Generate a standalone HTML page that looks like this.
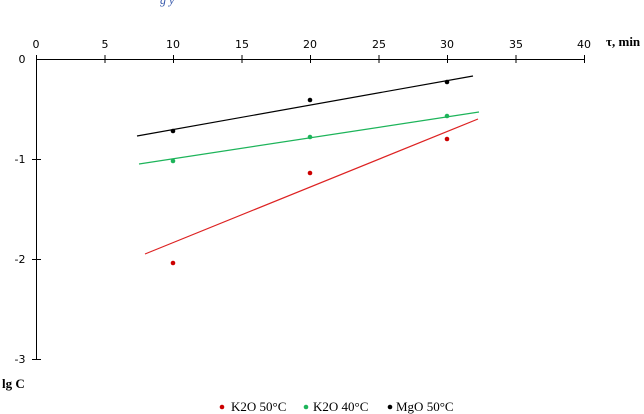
<!DOCTYPE html><html><head><style>body{margin:0;background:#fff}svg{display:block}</style></head><body>
<svg width="644" height="414" xmlns="http://www.w3.org/2000/svg">
<text x="160" y="4" font-family="Liberation Serif,serif" font-size="12" font-style="italic" fill="#3355aa">g   y</text>
<g stroke="#000" stroke-width="1">
<line x1="36" y1="59.5" x2="585" y2="59.5"/><line x1="36.5" y1="59" x2="36.5" y2="359"/>
<line x1="36.5" y1="55" x2="36.5" y2="63"/><line x1="105" y1="55" x2="105" y2="63"/><line x1="173.5" y1="55" x2="173.5" y2="63"/><line x1="242" y1="55" x2="242" y2="63"/><line x1="310.5" y1="55" x2="310.5" y2="63"/><line x1="379" y1="55" x2="379" y2="63"/><line x1="447.5" y1="55" x2="447.5" y2="63"/><line x1="516" y1="55" x2="516" y2="63"/><line x1="584.5" y1="55" x2="584.5" y2="63"/>
<line x1="32" y1="159.5" x2="41" y2="159.5"/><line x1="32" y1="259.5" x2="41" y2="259.5"/><line x1="32" y1="359.5" x2="41" y2="359.5"/>
</g>
<g font-family="DejaVu Sans,sans-serif" font-size="11" fill="#000" text-anchor="middle">
<text x="36" y="48">0</text><text x="105" y="48">5</text><text x="173" y="48">10</text><text x="242" y="48">15</text><text x="310" y="48">20</text><text x="379" y="48">25</text><text x="447" y="48">30</text><text x="516" y="48">35</text><text x="584" y="48">40</text>
<text x="22" y="63">0</text><text x="20" y="163">-1</text><text x="20" y="263">-2</text><text x="20" y="363">-3</text>
</g>
<text x="606" y="46" font-family="Liberation Serif,serif" font-size="13" font-weight="bold">τ, min</text>
<text x="2" y="388" font-family="Liberation Serif,serif" font-size="13" font-weight="bold">lg C</text>
<line x1="137" y1="136" x2="473" y2="76" stroke="#000" stroke-width="1.2"/>
<line x1="139" y1="164" x2="479" y2="112" stroke="#1db45a" stroke-width="1.2"/>
<line x1="145" y1="254" x2="478" y2="119" stroke="#d22" stroke-width="1.2"/>
<g fill="#000"><circle cx="173" cy="131" r="2.3"/><circle cx="310" cy="100" r="2.3"/><circle cx="447" cy="82" r="2.3"/></g>
<g fill="#1db45a"><circle cx="173" cy="161" r="2.3"/><circle cx="310" cy="137" r="2.3"/><circle cx="447" cy="116" r="2.3"/></g>
<g fill="#c00"><circle cx="173" cy="263" r="2.3"/><circle cx="310" cy="173" r="2.3"/><circle cx="447" cy="139" r="2.3"/></g>
<g font-family="Liberation Serif,serif" font-size="13">
<circle cx="222" cy="407" r="2.3" fill="#c00"/><text x="231" y="411">K2O 50°C</text>
<circle cx="306" cy="407" r="2.3" fill="#1db45a"/><text x="313" y="411">K2O 40°C</text>
<circle cx="390" cy="407" r="2.3" fill="#000"/><text x="396" y="411">MgO 50°C</text>
</g>
</svg></body></html>
